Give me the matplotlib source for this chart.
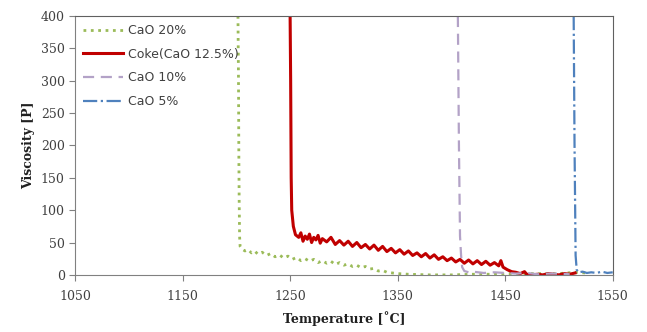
import numpy as np
import matplotlib.pyplot as plt

# CaO 20%
t_cao20 = [1201.5, 1202, 1202.3, 1202.6, 1203, 1203.5, 1205, 1208, 1211, 1214, 1217, 1220, 1224, 1228,
           1232, 1236, 1240, 1244, 1248, 1252, 1256, 1260, 1264, 1268, 1272, 1276, 1280, 1284, 1288,
           1292, 1296, 1300, 1304, 1308, 1312, 1316, 1320, 1324, 1328, 1332, 1336, 1340, 1345, 1350,
           1360, 1380, 1400, 1420, 1440, 1460, 1480, 1500, 1515, 1525]
v_cao20 = [400, 300, 190, 120, 60, 44, 40, 37, 39, 34, 37, 32, 35, 30,
           33, 28, 31, 26, 29, 24, 27, 22, 25, 21, 24, 19, 22, 18, 21,
           16, 19, 15, 17, 13, 15, 11, 13, 9, 10, 6, 7, 4, 3, 2,
           1, 0, 0, 1, 1, 2, 2, 2, 4, 3]

# Coke (CaO 12.5%)
t_coke = [1250, 1250.5, 1251, 1251.5, 1253, 1255, 1258, 1260, 1262, 1264, 1266, 1268, 1270, 1272,
          1274, 1276, 1278, 1280, 1284, 1288, 1292, 1296, 1300, 1304, 1308, 1312, 1316, 1320, 1324,
          1328, 1332, 1336, 1340, 1344, 1348, 1352, 1356, 1360, 1364, 1368, 1372, 1376, 1380, 1384,
          1388, 1392, 1396, 1400, 1404, 1408, 1412, 1416, 1420, 1424, 1428, 1432, 1436, 1440, 1444,
          1446, 1448, 1452, 1456, 1460, 1464, 1468, 1470, 1475, 1480, 1485, 1490, 1495, 1500, 1505,
          1510, 1515]
v_coke = [400, 300, 150, 100, 75, 62, 58, 65, 52, 60, 55, 63, 50, 58,
          54, 61, 49, 56, 51, 58, 47, 53, 46, 52, 44, 50, 42, 47, 40,
          46, 38, 44, 36, 41, 34, 39, 32, 37, 30, 34, 28, 33, 26, 31,
          24, 28, 22, 26, 20, 24, 18, 23, 17, 22, 16, 21, 15, 19, 14,
          22, 12, 8, 5, 4, 2, 5, 1, 0, 1, 0, 2, 1, 0, 2,
          1, 3]

# CaO 10%
t_cao10 = [1406, 1407, 1408, 1409, 1410, 1412, 1416, 1420, 1430, 1440, 1450, 1460, 1470, 1480,
           1490, 1500, 1510]
v_cao10 = [400, 200, 60, 30, 12, 6, 4, 5, 3, 4, 3, 2, 3, 1,
           2, 2, 1]

# CaO 5%
t_cao5 = [1513.7, 1514.5, 1515.5, 1516.5, 1518, 1522, 1526, 1530, 1535, 1540, 1545, 1550]
v_cao5 = [400, 200, 30, 8, 4, 5, 3, 4, 3, 5, 3, 4]

fig = plt.figure(figsize=(6.47, 3.32), dpi=100)
ax = fig.add_axes([0.116, 0.172, 0.831, 0.780])

ax.plot(t_cao20, v_cao20, ':', color='#9BBB59', lw=2.0, label='CaO 20%')
ax.plot(t_coke, v_coke, '-', color='#C00000', lw=2.2, label='Coke(CaO 12.5%)')
ax.plot(t_cao10, v_cao10, '--', color='#B3A2C7', lw=1.6, dashes=(5, 3), label='CaO 10%')
ax.plot(t_cao5, v_cao5, '-.', color='#4F81BD', lw=1.6, label='CaO 5%')

ax.set_xlim(1050, 1550)
ax.set_ylim(0, 400)
ax.set_xticks(np.arange(1050, 1551, 100))
ax.set_yticks(np.arange(0, 401, 50))
ax.tick_params(direction='out', length=4, color='#808080', labelsize=9,
               labelcolor='#404040')
for lab in ax.get_xticklabels() + ax.get_yticklabels():
    lab.set_family('DejaVu Serif')
ax.tick_params(axis='x', pad=7)
for s in ['left', 'bottom']:
    ax.spines[s].set_color('#808080')
for s in ['top', 'right']:
    ax.spines[s].set_color('#606060')

ax.set_xlabel('Temperature [˚C]', family='DejaVu Serif', fontweight='bold',
              fontsize=9, color='#202020', labelpad=6)
ax.set_ylabel('Viscosity [P]', family='DejaVu Serif', fontweight='bold',
              fontsize=9, color='#202020', labelpad=4)

ax.legend(loc='upper left', frameon=False, fontsize=9, handlelength=3.2,
          labelspacing=0.85, borderaxespad=0.25, handletextpad=0.4,
          labelcolor='#404040')

fig.savefig('out.png', dpi=100)
